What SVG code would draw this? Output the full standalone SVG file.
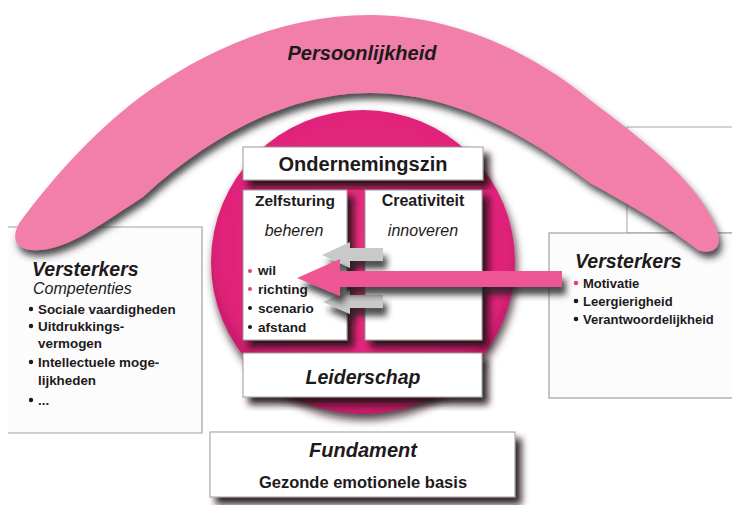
<svg xmlns="http://www.w3.org/2000/svg" width="732" height="505" viewBox="0 0 732 505">
<defs>
<style>
text{font-family:"Liberation Sans",Arial,sans-serif;fill:#1e1a1c}
.box{fill:#ffffff;stroke:#9a9a9a;stroke-width:1}
.side{fill:#fdfcfc;stroke:#a0a0a0;stroke-width:1.2}
.b{font-weight:bold}
.i{font-style:italic}
.c{text-anchor:middle}
.pk{fill:#e0407f}
.bk{fill:#1e1a1c}
</style>
<filter id="sh" x="-20%" y="-20%" width="150%" height="150%">
<feDropShadow dx="6" dy="7" stdDeviation="3.5" flood-color="#1a0a10" flood-opacity="0.9"/>
</filter>
<filter id="shb" x="-10%" y="-20%" width="130%" height="160%">
<feDropShadow dx="3" dy="6" stdDeviation="3.5" flood-color="#2a2a2a" flood-opacity="0.85"/>
</filter>
<filter id="shc" x="-10%" y="-10%" width="130%" height="130%">
<feDropShadow dx="2" dy="6" stdDeviation="4" flood-color="#2a0a15" flood-opacity="0.8"/>
</filter>
<filter id="sha" x="-20%" y="-50%" width="150%" height="250%">
<feDropShadow dx="4" dy="8" stdDeviation="3" flood-color="#222" flood-opacity="0.8"/>
</filter>
<radialGradient id="cg" cx="0.5" cy="0.45" r="0.55">
<stop offset="0" stop-color="#e8307f"/>
<stop offset="0.85" stop-color="#e0237a"/>
<stop offset="1" stop-color="#c01a66"/>
</radialGradient>
</defs>
<rect width="732" height="505" fill="#ffffff"/>

<g id="versterkers-rechts-achter">
<rect x="627" y="127" width="120" height="106" fill="none" stroke="#a8a8a8" stroke-width="1"/>
</g>

<g id="versterkers-links">
<rect x="8" y="227" width="194" height="206" fill="#fdfcfc"/>
<path d="M8,227 H202 V433 H8" fill="none" stroke="#a0a0a0" stroke-width="1.2"/>
<text class="b i" x="32" y="276" font-size="19.5">Versterkers</text>
<text class="i" x="33" y="294" font-size="16">Competenties</text>
<circle class="bk" cx="31" cy="309" r="2.2"/>
<text class="b" x="38" y="313.5" font-size="13.4">Sociale vaardigheden</text>
<circle class="bk" cx="31" cy="326" r="2.2"/>
<text class="b" x="38" y="330.5" font-size="13.4">Uitdrukkings-</text>
<text class="b" x="38" y="348" font-size="13.4">vermogen</text>
<circle class="bk" cx="31" cy="362" r="2.2"/>
<text class="b" x="38" y="366.5" font-size="13.4">Intellectuele moge-</text>
<text class="b" x="38" y="384.5" font-size="13.4">lijkheden</text>
<circle class="bk" cx="31" cy="400" r="2.2"/>
<text class="b" x="38" y="404.5" font-size="13.4">...</text>
</g>

<g id="versterkers-rechts">
<rect class="side" x="549" y="233" width="190" height="165"/>
<text class="b i" x="575" y="268" font-size="19.5">Versterkers</text>
<circle class="pk" cx="576" cy="283" r="2.3"/>
<text class="b" x="583" y="287.5" font-size="13">Motivatie</text>
<circle class="bk" cx="576" cy="301" r="2.3"/>
<text class="b" x="583" y="305.5" font-size="13">Leergierigheid</text>
<circle class="bk" cx="576" cy="319" r="2.3"/>
<text class="b" x="583" y="323.5" font-size="13">Verantwoordelijkheid</text>
</g>

<g id="cirkel">
<circle cx="363" cy="262" r="152" fill="url(#cg)" filter="url(#shc)"/>
</g>

<g id="persoonlijkheid">
<path d="M40,250 C15,252 10,238 20,222 C55,175 100,125 150,90 C215,45 290,15 370,15 C450,15 530,50 590,100 C650,145 700,185 716,228 C725,250 710,255 698,250 C670,228 630,205 590,183 C520,130 450,93 370,93 C290,93 210,135 143,197 C100,225 70,248 40,250 Z" fill="#f17fa9" filter="url(#shb)"/>
<text class="b i c" x="362" y="60" font-size="20">Persoonlijkheid</text>
</g>

<g id="ondernemingszin">
<rect class="box" x="243" y="147" width="240" height="33" filter="url(#sh)"/>
<text class="b c" x="363" y="171" font-size="20">Ondernemingszin</text>
</g>

<g id="zelfsturing">
<rect class="box" x="243" y="190" width="104" height="150" filter="url(#sh)"/>
<text class="b c" x="295" y="206" font-size="15.5">Zelfsturing</text>
<text class="i c" x="294" y="236" font-size="16">beheren</text>
<circle class="pk" cx="250" cy="271" r="2"/>
<text class="b" x="258" y="275" font-size="13.6">wil</text>
<circle class="pk" cx="250" cy="289" r="2"/>
<text class="b" x="258" y="293.5" font-size="13.6">richting</text>
<circle class="bk" cx="250" cy="308" r="2"/>
<text class="b" x="258" y="312.5" font-size="13.6">scenario</text>
<circle class="bk" cx="250" cy="327" r="2"/>
<text class="b" x="258" y="331.5" font-size="13.6">afstand</text>
</g>

<g id="creativiteit">
<rect class="box" x="365" y="190" width="117" height="150" filter="url(#sh)"/>
<text class="b c" x="423" y="206" font-size="16">Creativiteit</text>
<text class="i c" x="423" y="236" font-size="16">innoveren</text>
</g>

<g id="leiderschap">
<rect class="box" x="243" y="353" width="239" height="44" filter="url(#sh)"/>
<text class="b i c" x="363" y="384" font-size="19.5">Leiderschap</text>
</g>

<g id="connectors">
<path d="M383,248 L350,248 L350,242 L322,255 L350,268 L350,261 L383,261 Z" fill="#c9c9c9" filter="url(#sha)"/>
<path d="M383,295 L350,295 L350,290 L323,302 L350,314 L350,308 L383,308 Z" fill="#c9c9c9" filter="url(#sha)"/>
<path d="M562,271 L340,271 L340,259 L297,278 L340,296 L340,287 L562,287 Z" fill="#ee5593" filter="url(#sha)"/>
</g>

<g id="fundament">
<rect class="box" x="210" y="432" width="305" height="65" filter="url(#sh)"/>
<text class="b i c" x="363" y="457" font-size="20">Fundament</text>
<text class="b c" x="363" y="488" font-size="16.5">Gezonde emotionele basis</text>
</g>
</svg>
